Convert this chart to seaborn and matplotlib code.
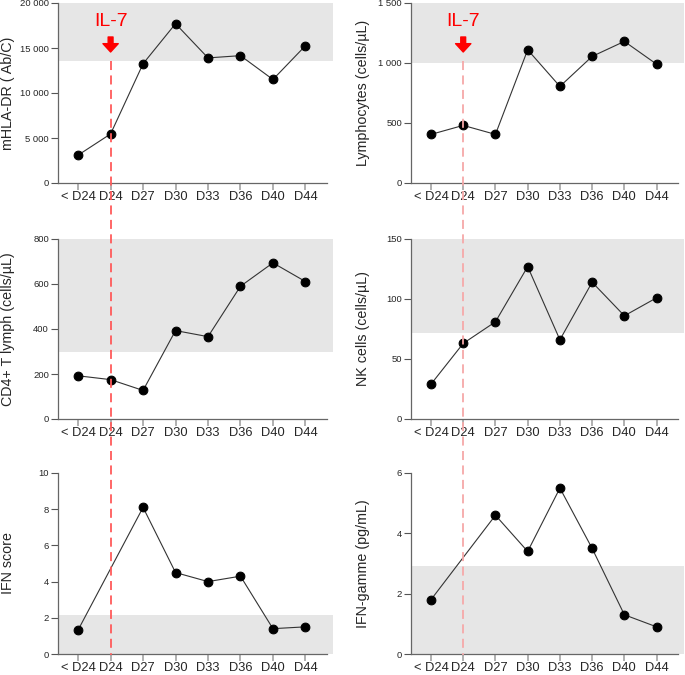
import numpy as np
import pandas as pd
import matplotlib
matplotlib.use("Agg")
import matplotlib.pyplot as plt
from matplotlib.lines import Line2D
from matplotlib.ticker import FuncFormatter
import seaborn as sns

# Data
days = ["< D24", "D24", "D27", "D30", "D33", "D36", "D40", "D44"]
mhla_dr = [3100, 5450, 13250, 17700, 13900, 14150, 11500, 15250]
lymphocytes = [405, 480, 405, 1110, 805, 1055, 1180, 990]
cd4_t = [192, 175, 127, 393, 366, 590, 694, 611]
nk_cells = [29, 63, 81, 127, 66, 114, 86, 101]
ifn_score = [1.33, np.nan, 8.1, 4.5, 4.0, 4.3, 1.4, 1.5]
ifn_gamma = [1.8, np.nan, 4.6, 3.4, 5.5, 3.5, 1.3, 0.9]

labels = ["mHLA-DR ( Ab/C)", "Lymphocytes (cells/µL)", "CD4+ T lymph (cells/µL)",
          "NK cells (cells/µL)", "IFN score", "IFN-gamme (pg/mL)"]
series = [mhla_dr, lymphocytes, cd4_t, nk_cells, ifn_score, ifn_gamma]
y_max = [20000, 1500, 800, 150, 10, 6]
y_step = [5000, 500, 200, 50, 2, 2]
normal_range = [(13600, 20000), (1000, 1500), (300, 800), (72, 150), (0, 2.17), (0, 2.93)]

sns.set_style("ticks")
plt.rcParams["font.family"] = ["Liberation Sans", "DejaVu Sans"]

W, H = 685, 675
fig = plt.figure(figsize=(W / 100, H / 100), dpi=100)

# axes boxes in pixels
col_px = [(58, 333), (411, 684)]
row_px = [(3, 183), (239, 419), (473, 654)]

axes = []
for i in range(6):
    r, c = divmod(i, 2)
    x0, x1 = col_px[c]
    t, b = row_px[r]
    ax = fig.add_axes([x0 / W, 1 - b / H, (x1 - x0) / W, (b - t) / H])
    axes.append(ax)

    lo, hi = normal_range[i]
    ax.axhspan(lo, hi, color="#e6e6e6", lw=0, zorder=0)

    df = pd.DataFrame({"pos": np.arange(len(days)), "value": series[i]}).dropna()
    sns.lineplot(data=df, x="pos", y="value", ax=ax, color="#333333", lw=0.8,
                 marker="o", markersize=6.3, markeredgecolor="black",
                 markerfacecolor="black", zorder=3)

    ax.set_xlim(-0.62, 7.85)
    ax.set_ylim(0, y_max[i])
    ax.set_yticks(np.arange(0, y_max[i] + 1e-9, y_step[i]))
    ax.yaxis.set_major_formatter(FuncFormatter(lambda v, p: f"{v:,.0f}".replace(",", " ")))
    ax.set_xticks(range(len(days)))
    ax.set_xticklabels(days, fontsize=9.3)
    ax.tick_params(axis="y", labelsize=6.8, length=5, width=0.8, color="#555555", pad=1.5)
    ax.tick_params(axis="x", length=5, width=1.3, color="#aaaaaa", pad=1)
    ax.set_xlabel("")
    ax.set_ylabel(labels[i], fontsize=10.3)
    ax.yaxis.set_label_coords(-0.155 if c == 0 else -0.15, 0.5)

    sns.despine(ax=ax)
    for s in ("left", "bottom"):
        ax.spines[s].set_color("#666666")
        ax.spines[s].set_linewidth(0.9)
    ax.spines["bottom"].set_bounds(-0.62, 7.65)
    ax.patch.set_alpha(0)

# IL-7 markers and dashed lines spanning the columns
inv = fig.transFigure.inverted()
for c, color in [(0, "#ff5a5a"), (1, "#f6a8a8")]:
    ax = axes[c]
    x_fig = inv.transform(ax.transData.transform((1, 0)))[0]
    fig.add_artist(Line2D([x_fig, x_fig], [1 - 61 / H, 1 - 655 / H], transform=fig.transFigure,
                          color=color, lw=1.3, ls=(0, (5, 3)), zorder=5))
    fig.text(x_fig, 1 - 22 / H, "IL-7", color="red", fontsize=14, ha="center", va="center")
    ax.annotate("", xy=(1, 1 - 52 / H), xytext=(1, 1 - 37 / H),
                xycoords=("data", "figure fraction"), textcoords=("data", "figure fraction"),
                arrowprops=dict(facecolor="red", edgecolor="red", width=3.5,
                                headwidth=11, headlength=6))

fig.savefig("out.png", dpi=100)
